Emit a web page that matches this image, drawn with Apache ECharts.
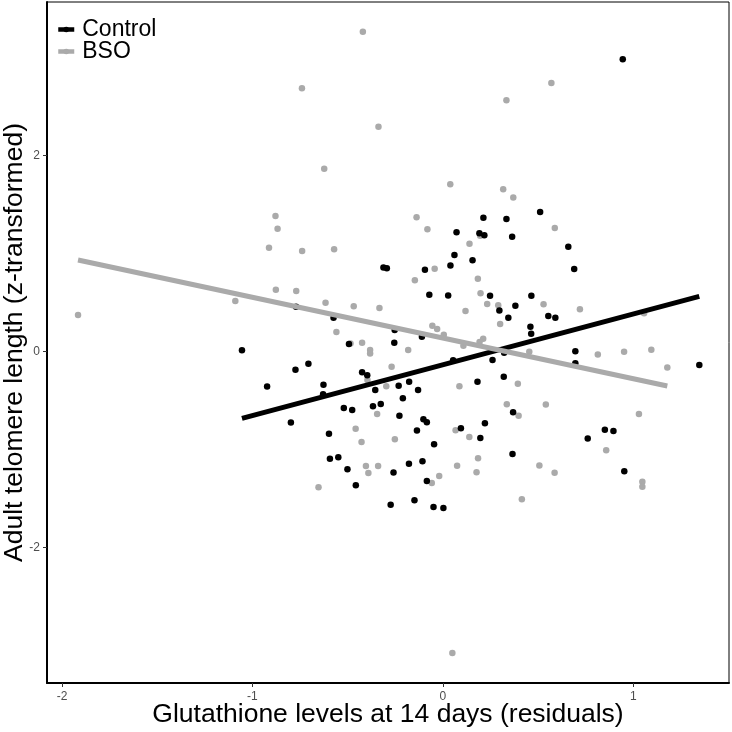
<!DOCTYPE html>
<html>
<head>
<meta charset="utf-8">
<script src="https://cdn.jsdelivr.net/npm/echarts@6/dist/echarts.min.js"></script>
<style>html,body{margin:0;padding:0;background:#fff}#c{width:732px;height:732px}</style>
</head>
<body>
<div id="c"></div>
<script>
// ---- data ----
const controlX = [0.945,0.511,0.213,0.334,0.072,0.192,0.218,0.364,0.659,0.061,0.156,0.040,-0.094,0.690,-0.312,-0.294,-0.071,0.028,0.248,0.465,0.381,0.297,0.344,0.554,0.591,0.460,0.464,-0.253,-0.110,-0.771,-0.574,-0.493,-0.255,-1.055,-0.774,-0.706,-0.923,-0.627,-0.629,-0.424,-0.397,-0.355,-0.520,-0.476,-0.367,-0.326,-0.798,-0.598,-0.593,-0.549,-0.501,-0.457,-0.232,-0.177,-0.130,-0.210,-0.228,-0.259,-0.274,0.054,0.261,0.322,0.182,0.320,0.369,-0.102,-0.084,-0.136,0.095,0.221,0.197,-0.046,0.366,-0.178,-0.107,-0.084,-0.149,-0.049,0.003,0.696,0.696,1.347,0.761,0.851,0.896,0.953];
const controlY = [2.980,1.421,1.363,1.350,1.215,1.205,1.185,1.169,1.066,0.983,0.929,0.876,0.833,0.840,0.855,0.848,0.578,0.569,0.567,0.566,0.465,0.416,0.343,0.360,0.343,0.251,0.180,0.217,0.149,0.455,0.343,0.074,0.087,0.010,-0.188,-0.128,-0.359,-0.341,-0.439,-0.213,-0.244,-0.395,-0.579,-0.599,-0.561,-0.538,-0.727,-0.842,-1.097,-1.082,-1.204,-1.367,-0.351,-0.311,-0.395,-0.479,-0.657,-1.237,-1.565,-0.092,-0.089,-0.014,-0.311,-0.260,-0.622,-0.694,-0.724,-0.808,-0.785,-0.735,-0.885,-0.949,-1.048,-1.147,-1.122,-1.323,-1.519,-1.589,-1.599,0.000,-0.122,-0.140,-0.890,-0.800,-0.813,-1.224];
const bsoX = [-0.420,-0.740,-0.338,-0.623,-0.879,-0.868,-0.913,-0.739,-0.571,-0.877,-0.770,-1.090,-0.616,-0.468,-0.333,-1.916,-0.559,0.570,0.334,0.039,0.317,0.370,-0.138,-0.081,0.588,0.196,0.140,-0.043,-0.147,0.184,0.198,0.233,0.291,0.529,0.720,0.119,0.301,-0.055,-0.030,0.005,0.212,0.193,1.057,-0.485,-0.424,-0.382,-0.382,-0.396,-0.345,-0.458,-0.427,-0.404,-0.340,-0.391,-0.653,-0.269,-0.297,-0.252,0.087,0.394,0.336,0.541,0.398,0.067,0.139,0.185,0.075,0.177,0.507,0.587,-0.019,-0.058,0.415,0.814,0.952,1.095,1.179,1.030,0.858,1.048,1.048,0.050,-0.182,0.108,0.454];
const bsoY = [3.261,2.684,2.292,1.863,1.381,1.250,1.057,1.023,1.041,0.629,0.615,0.513,0.496,0.459,0.442,0.370,0.197,2.738,2.561,1.704,1.653,1.569,1.368,1.246,1.258,1.180,1.097,0.842,0.724,0.741,0.592,0.483,0.469,0.480,0.429,0.411,0.279,0.261,0.226,0.169,0.128,0.095,0.388,0.080,0.088,0.013,-0.022,-0.293,-0.640,-0.790,-0.926,-1.170,-1.170,-1.242,-1.388,-0.158,-0.357,-0.898,-0.356,-0.332,-0.541,-0.543,-0.658,-0.806,-0.874,-1.092,-1.167,-1.235,-1.165,-1.239,-1.274,-1.344,-1.509,-0.033,-0.005,0.015,-0.165,-0.640,-1.010,-1.331,-1.382,-3.079,0.013,0.057,-0.005];
// fitted regression lines (endpoints)
const controlFitX = [-1.055, 1.347];
const controlFitY = [-0.684, 0.561];
const bsoFitX = [-1.916, 1.179];
const bsoFitY = [0.932, -0.354];
// tick labels
const xTicks = [-2, -1, 0, 1];
const yTicks = [-2, 0, 2];
const seriesNames = ['Control', 'BSO'];
const xTitle = 'Glutathione levels at 14 days (residuals)';
const yTitle = 'Adult telomere length (z-transformed)';

const BLACK = '#000000', GRAY = '#AAAAAA';
const FONT = '"Liberation Sans", Arial, Helvetica, sans-serif';
const zip = (a, b) => a.map((v, i) => [v, b[i]]);

const chart = echarts.init(document.getElementById('c'), null, {renderer: 'canvas'});
chart.setOption({
  animation: false,
  backgroundColor: '#fff',
  textStyle: {fontFamily: FONT},
  grid: {left: 47, right: 3, top: 2, bottom: 49, containLabel: false, outerBoundsMode: 'none',
         show: true, borderColor: '#000', borderWidth: 1, backgroundColor: 'transparent'},
  legend: {
    data: seriesNames, orient: 'vertical', left: 56, top: 18, padding: 0,
    itemWidth: 16, itemHeight: 7, itemGap: -1,
    lineStyle: {width: 4.5},
    textStyle: {fontFamily: FONT, fontSize: 23, color: '#000', padding: [0, 0, 0, 3]},
    selectedMode: false
  },
  xAxis: {
    type: 'value', min: -2.079, max: 1.503,
    splitLine: {show: false},
    axisLine: {show: true, onZero: false, lineStyle: {color: '#000', width: 2}},
    axisTick: {show: true, customValues: xTicks, length: 4, lineStyle: {color: '#333', width: 1}},
    axisLabel: {customValues: xTicks, fontSize: 12, color: '#4d4d4d', margin: 8, fontFamily: FONT},
    name: xTitle, nameLocation: 'middle', nameGap: 18, nameMoveOverlap: false,
    nameTextStyle: {fontSize: 26.5, color: '#000', fontFamily: FONT}
  },
  yAxis: {
    type: 'value', min: -3.385, max: 3.564,
    splitLine: {show: false},
    axisLine: {show: true, onZero: false, lineStyle: {color: '#000', width: 2}},
    axisTick: {show: true, customValues: yTicks, length: 4, lineStyle: {color: '#333', width: 1}},
    axisLabel: {customValues: yTicks, fontSize: 12, color: '#4d4d4d', margin: 7, fontFamily: FONT},
    name: yTitle, nameLocation: 'middle', nameGap: 19, nameRotate: 90, nameMoveOverlap: false,
    nameTextStyle: {fontSize: 26.5, color: '#000', fontFamily: FONT}
  },
  series: [
    {name: 'Control', type: 'line', data: zip(controlFitX, controlFitY), symbol: 'circle', symbolSize: 6,
     showSymbol: false, lineStyle: {color: BLACK, width: 5}, itemStyle: {color: BLACK}, z: 3},
    {name: 'BSO', type: 'line', data: zip(bsoFitX, bsoFitY), symbol: 'circle', symbolSize: 6,
     showSymbol: false, lineStyle: {color: GRAY, width: 5}, itemStyle: {color: GRAY}, z: 3},
    {name: 'BSO', type: 'scatter', data: zip(bsoX, bsoY), symbol: 'circle', symbolSize: 6.5,
     itemStyle: {color: GRAY, opacity: 1}, z: 2},
    {name: 'Control', type: 'scatter', data: zip(controlX, controlY), symbol: 'circle', symbolSize: 6.5,
     itemStyle: {color: BLACK, opacity: 1}, z: 2}
  ]
});
</script>
</body>
</html>
